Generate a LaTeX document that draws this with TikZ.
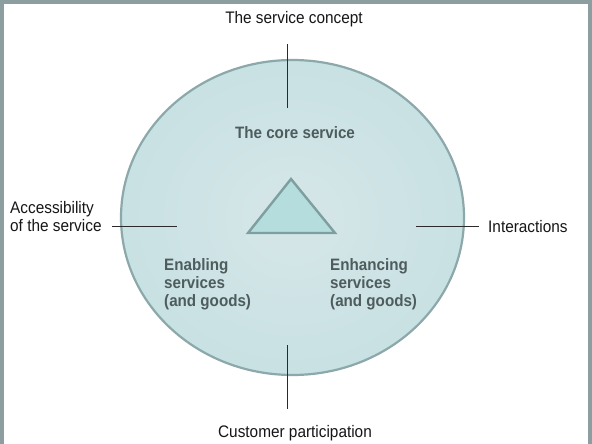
\documentclass[tikz,border=0pt]{standalone}
\usepackage{fontspec}
\setmainfont{Liberation Sans}[FakeStretch=0.92]
\begin{document}
\definecolor{framegray}{HTML}{8C9E9F}
\definecolor{discin}{HTML}{D6E6E8}
\definecolor{discout}{HTML}{C8E1E3}
\definecolor{discline}{HTML}{8DA8AA}
\definecolor{trifill}{HTML}{B6DDDD}
\definecolor{triline}{HTML}{7D9FA0}
\definecolor{innertext}{HTML}{4E5C5D}
\definecolor{outertext}{HTML}{161616}
\definecolor{leader}{HTML}{2A2A2A}
\begin{tikzpicture}[x=1pt,y=-1pt,
  outerlabel/.style={inner sep=0pt,text=outertext,font=\fontsize{16.7}{18.5}\selectfont},
  innerlabel/.style={inner sep=0pt,text=innertext,font=\fontsize{16.5}{18}\selectfont\bfseries},
  leaderline/.style={draw=leader,line width=0.9pt}]
  \useasboundingbox (0,0) rectangle (592,444);
  \fill[white] (0,0) rectangle (592,444);
  % outer frame (open at the bottom)
  \draw[framegray,line width=3.6pt] (1.8,444) -- (1.8,1.8) -- (590.2,1.8) -- (590.2,444);
  % service offering disc
  \shade[inner color=discin,outer color=discout] (292.5,217.5) ellipse [x radius=171.5, y radius=157.5];
  \draw[discline,line width=2.2pt] (292.5,217.5) ellipse [x radius=171.5, y radius=157.5];
  % core triangle
  \node[coordinate] (apex) at (291,179) {};
  \filldraw[fill=trifill,draw=triline,line width=2.4pt,line join=miter]
    (apex) -- (335,233) -- (248,233) -- cycle;
  % labels
  \node[outerlabel,anchor=base] (concept) at (294,24) {The service concept};
  \node[innerlabel,anchor=base] (core) at (295,139) {The core service};
  \node[outerlabel,anchor=north west,align=left] (access) at (10,201) {Accessibility\\of the service};
  \node[outerlabel,anchor=base west] (inter) at (488,232) {Interactions};
  \node[innerlabel,anchor=north west,align=left] (enabling) at (164,258) {Enabling\\services\\(and goods)};
  \node[innerlabel,anchor=north west,align=left] (enhancing) at (330,258) {Enhancing\\services\\(and goods)};
  \node[outerlabel,anchor=base] (partic) at (295,437) {Customer participation};
  % leader lines
  \coordinate (topA) at (287,44);   \coordinate (topB) at (287,108);
  \coordinate (botA) at (287,345);  \coordinate (botB) at (287,409);
  \coordinate (lftA) at (112,226);  \coordinate (lftB) at (177,226);
  \coordinate (rgtA) at (416,226);  \coordinate (rgtB) at (479,226);
  \draw[leaderline] (topA) -- (topB);
  \draw[leaderline] (botA) -- (botB);
  \draw[leaderline] (lftA) -- (lftB);
  \draw[leaderline] (rgtA) -- (rgtB);
\end{tikzpicture}
\end{document}
